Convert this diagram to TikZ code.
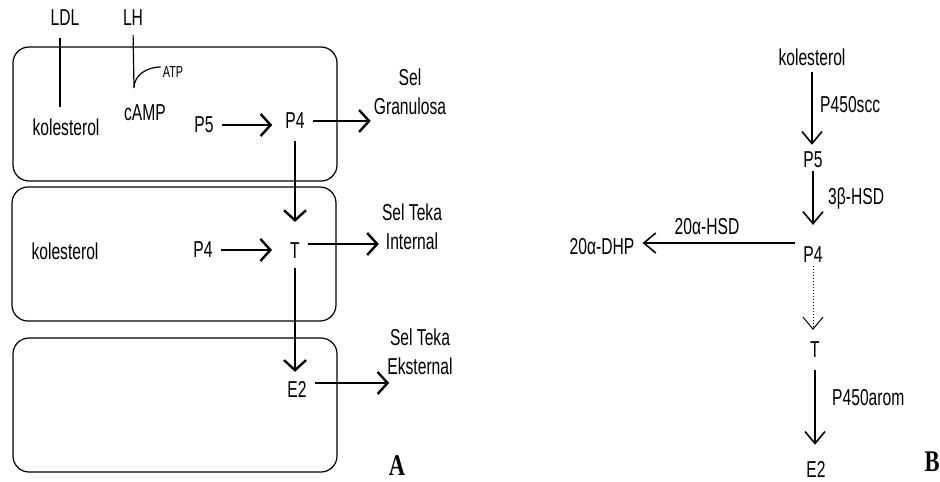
\documentclass[tikz,border=0pt]{standalone}
\usepackage{fontspec}
\setmainfont{Liberation Sans}[FakeStretch=0.68]
\newfontfamily\panelfont{Liberation Serif}[FakeStretch=0.75]
\usetikzlibrary{arrows.meta}

\begin{document}
\begin{tikzpicture}[x=1pt,y=-1pt,
  lbl/.style={font=\fontsize{23}{29}\selectfont, inner xsep=8pt, inner ysep=3pt},
  twoline/.style={font=\fontsize{23}{29}\selectfont, inner sep=3pt, align=center},
  enzyme/.style={font=\fontsize{23}{29}\selectfont, inner sep=0pt},
  small/.style={font=\fontsize{16}{18}\selectfont, inner sep=2pt},
  panel/.style={font=\panelfont\bfseries\fontsize{30}{30}\selectfont, inner sep=0pt},
  cell/.style={line width=1.2pt, rounded corners=16pt},
  wire/.style={line width=1.2pt},
  flowA/.style={line width=2.4pt, -{Straight Barb[length=10pt,width=22pt]}},
  flowB/.style={line width=1.6pt, -{Straight Barb[length=12pt,width=20pt]}}]

\useasboundingbox (0,0) rectangle (940,482);

% Cells
\draw[cell] (13,47) rectangle (337,181);
\draw[cell] (12,187) rectangle (336,321);
\draw[cell] (13,338) rectangle (337,472);

% Hormones
\node[lbl] (ldl) at (65,18) {LDL};
\node[lbl] (lh) at (133,18) {LH};
\node[small] (atp) at (173,72) {ATP};
\coordinate (lhEnd) at (134,88);

% Granulosa cell
\node[lbl] (kolA) at (66,127) {kolesterol};
\node[lbl] (camp) at (145,113) {cAMP};
\node[lbl] (p5A) at (204,125) {P5};
\node[lbl] (p4A) at (295,121) {P4};
\node[twoline] (granA) at (410,92) {Sel\\Granulosa};

\draw[wire, shorten <=9pt, shorten >=8pt] ([xshift=-5pt]ldl.south) -- ([xshift=-6pt]kolA.north);
\draw[wire, shorten <=6pt] (lh.south) -- (lhEnd) to[out=90,in=180] ([yshift=5pt]atp.west);
\draw[flowA, shorten >=5pt] (p5A.east) -- (p5A.east -| p4A.west);
\draw[flowA] (p4A.east) -- (p4A.east -| granA.west);

% Theca interna
\node[lbl] (kolB) at (65,251) {kolesterol};
\node[lbl] (p4B) at (203,250) {P4};
\node[lbl] (tA) at (295,251) {T};
\node[twoline] (tekaIn) at (412,227) {Sel Teka\\Internal};

\draw[flowA, shorten <=9pt, shorten >=18pt] (p4A.south) -- (p4A.south |- tA.north);
\draw[flowA, shorten >=10pt] (p4B.east) -- (p4B.east -| tA.west);
\draw[flowA] ([yshift=7pt]tA.east) -- ([yshift=7pt]tA.east -| tekaIn.west);

% Theca externa
\node[lbl] (e2A) at (297,389) {E2};
\node[twoline] (tekaEx) at (420,352) {Sel Teka\\Eksternal};

\draw[flowA, shorten <=6pt, shorten >=6pt] (tA.south) -- (tA.south |- e2A.north);
\draw[flowA, shorten >=-5pt] ([yshift=6pt]e2A.east) -- ([yshift=6pt]e2A.east -| tekaEx.west);

\node[panel] (labA) at (397,466) {A};

% Pathway (B)
\node[lbl] (kolR) at (812,57) {kolesterol};
\node[lbl] (p5R) at (813,160) {P5};
\node[lbl] (p4R) at (813,255) {P4};
\node[lbl] (tR) at (815,350) {T};
\node[lbl, inner ysep=1pt] (e2R) at (816,469) {E2};
\node[lbl] (dhp) at (602,247) {20α-DHP};

\node[enzyme, anchor=west] (scc) at (820,105) {P450scc};
\node[enzyme, anchor=west] (hsd3) at (828,199) {3β-HSD};
\node[enzyme] (hsd20) at (707,227) {20α-HSD};
\node[enzyme, anchor=west] (arom) at (832,398) {P450arom};

\draw[flowB, shorten <=3pt, shorten >=4pt] (kolR.south) -- (kolR.south |- p5R.north);
\draw[flowB, shorten >=19pt] (p5R.south) -- (p5R.south |- p4R.north);
\draw[flowB] ([yshift=12pt]p4R.west) -- ([yshift=12pt]p4R.west -| dhp.east);
\draw[flowB, line width=1pt, dotted, shorten >=9pt] (p4R.south) -- (p4R.south |- tR.north);
\draw[flowB, shorten <=9pt, shorten >=15pt] (tR.south) -- (tR.south |- e2R.north);

\node[panel] (labB) at (932,462) {B};

\end{tikzpicture}
\end{document}
